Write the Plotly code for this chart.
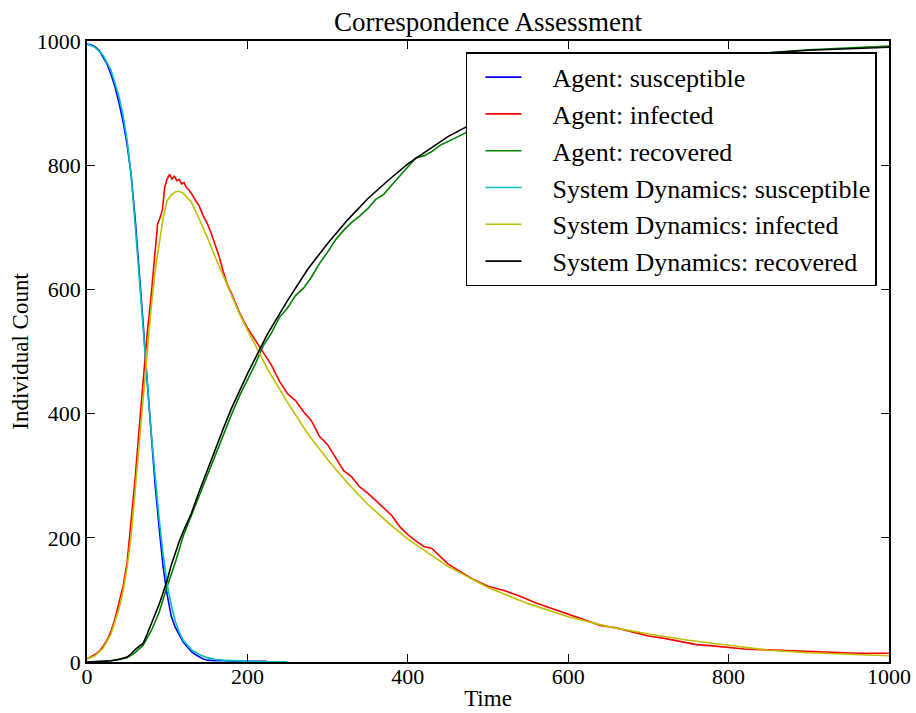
import plotly.graph_objects as go

# ---------------- data ----------------
sd_time = [0, 10, 20, 30, 40, 45, 50, 55, 60, 65, 70, 75, 80, 85, 90, 95, 100, 105, 110, 115,
           120, 130, 140, 150, 160, 170, 180, 190, 200, 225, 250]
sd_susceptible = [995, 990, 977, 953, 910, 880, 840, 785, 705, 625, 550, 455, 370, 295, 230, 172,
                  125, 92, 66, 48, 35, 20, 12, 7, 4, 3, 2, 1.5, 1, 0.5, 0.3]

sd_time_ir = [0, 10, 20, 30, 40, 45, 50, 55, 60, 65, 70, 75, 80, 85, 90, 95, 100, 105, 110, 115,
              120, 130, 140, 150, 160, 170, 180, 190, 200, 225, 250, 275, 300, 325, 350, 375, 400,
              450, 500, 550, 600, 650, 700, 750, 800, 850, 900, 950, 1000]
sd_infected = [5, 10, 22, 45, 86, 114, 152, 202, 275, 350, 420, 500, 570, 630, 677, 716, 743, 752,
               757, 758, 755, 741, 713, 684, 652, 621, 590, 561, 535, 472, 418, 368, 326, 288, 254,
               225, 198, 154, 120, 94, 73, 57, 45, 35, 27, 19, 15, 12, 10]
sd_recovered = [0, 0.3, 1, 2, 4, 6, 8, 13, 20, 25, 30, 45, 60, 75, 93, 112, 132, 156, 177, 194,
                210, 239, 275, 309, 344, 376, 408, 437, 464, 528, 582, 632, 674, 712, 746, 775,
                802, 846, 880, 906, 927, 943, 955, 965, 973, 981, 985, 988, 990]

agent_s_time = [0, 5, 10, 15, 20, 25, 30, 35, 40, 45, 50, 55, 60, 65, 70, 75, 80, 85, 90, 95, 100,
                105, 110, 115, 120, 125, 130, 135, 140, 145, 150, 155, 160, 170, 180, 190, 200, 210,
                224]
agent_susceptible = [995, 994, 991, 985, 974, 963, 946, 926, 900, 870, 833, 785, 715, 635, 545,
                     452, 362, 285, 215, 152, 108, 74, 56, 45, 32, 24, 17, 12, 8, 5, 3, 2, 2, 2,
                     1, 1, 1, 1, 1]

agent_i_time = [0, 5, 10, 15, 20, 25, 30, 35, 40, 45, 50, 55, 60, 65, 70, 75, 80, 85, 88, 91, 94,
                97, 100, 103, 106, 109, 112, 115, 118, 121, 124, 127, 130, 135, 140, 145, 150, 155,
                160, 165, 170, 175, 180, 185, 190, 195, 200, 210, 220, 230, 240, 250, 260, 270,
                280, 290, 300, 310, 320, 330, 340, 350, 360, 370, 380, 390, 400, 410, 420, 430,
                440, 450, 460, 470, 480, 490, 500, 520, 540, 560, 580, 600, 620, 640, 660, 680,
                700, 720, 740, 760, 780, 800, 820, 840, 860, 880, 900, 920, 940, 960, 980, 1000]
agent_infected = [5, 8, 12, 17, 25, 35, 50, 70, 94, 122, 160, 222, 295, 375, 455, 528, 590, 665,
                  705, 715, 728, 765, 778, 785, 778, 782, 775, 777, 770, 772, 764, 760, 755, 744,
                  734, 718, 706, 690, 672, 652, 628, 608, 594, 578, 563, 550, 538, 518, 498, 478,
                  452, 432, 421, 403, 388, 363, 350, 330, 308, 298, 282, 272, 260, 248, 236, 218,
                  205, 195, 186, 183, 170, 158, 150, 142, 134, 128, 122, 115, 106, 95, 86, 76, 68,
                  59, 55, 48, 42, 38, 33, 28, 26, 23, 21, 20, 19, 18, 16, 15, 15, 14, 14, 14]

agent_r_time = [0, 10, 20, 30, 40, 50, 60, 70, 80, 90, 100, 110, 120, 130, 140, 150, 160, 170,
                180, 190, 200, 210, 220, 230, 240, 250, 260, 270, 280, 290, 300, 310, 320, 330,
                340, 350, 360, 370, 380, 390, 400, 410, 420, 430, 440, 450, 500, 550, 600, 650,
                700, 750, 800, 850, 900, 950, 1000]
agent_recovered = [0, 0, 1, 2, 4, 7, 15, 27, 50, 80, 122, 160, 203, 236, 268, 300, 334, 365, 398,
                   428, 455, 480, 510, 530, 555, 570, 590, 602, 620, 642, 660, 680, 695, 708, 718,
                   730, 745, 753, 768, 782, 797, 812, 815, 822, 832, 838, 870, 900, 922, 940, 952,
                   963, 972, 981, 986, 989, 992]

tick_vals = [0, 200, 400, 600, 800, 1000]
tick_text = ["0", "200", "400", "600", "800", "1000"]

# ---------------- figure ----------------
FONT = "Liberation Serif"
GAP = "\u00a0" * 4
series = [
    ("Agent: susceptible", agent_s_time, agent_susceptible, "#0000ff"),
    ("Agent: infected", agent_i_time, agent_infected, "#ff0000"),
    ("Agent: recovered", agent_r_time, agent_recovered, "#008000"),
    ("System Dynamics: susceptible", sd_time, sd_susceptible, "#00bfbf"),
    ("System Dynamics: infected", sd_time_ir, sd_infected, "#bfbf00"),
    ("System Dynamics: recovered", sd_time_ir, sd_recovered, "#000000"),
]

fig = go.Figure()
for i, (name, xs, ys, col) in enumerate(series):
    fig.add_trace(go.Scatter(x=xs, y=ys, mode="lines", name=GAP + name, legendgroup=str(i),
                             line=dict(color=col, width=1.6)))

axis_common = dict(range=[0, 1000], tickvals=tick_vals, ticktext=tick_text,
                   showline=True, linecolor="black", linewidth=1.5, mirror="ticks",
                   ticks="inside", ticklen=8, tickwidth=1, tickcolor="black",
                   showgrid=False, zeroline=False, automargin=False,
                   tickfont=dict(family=FONT, size=22, color="black"))

fig.update_layout(
    width=916, height=713,
    margin=dict(l=87, r=27, t=41, b=51),
    paper_bgcolor="white", plot_bgcolor="white",
    title=dict(text="Correspondence Assessment", x=0.5, xanchor="center",
               y=1 - 22 / 713, yanchor="middle",
               xref="paper",
               font=dict(family=FONT, size=27, color="black")),
    xaxis=dict(title=dict(text="Time", font=dict(family=FONT, size=23, color="black"),
                          standoff=2), ticklabelstandoff=-6, **axis_common),
    yaxis=dict(title=dict(text="Individual Count", font=dict(family=FONT, size=23, color="black"),
                          standoff=2), **axis_common),
    legend=dict(x=0.985, y=0.982, xanchor="right", yanchor="top",
                bgcolor="white", bordercolor="black", borderwidth=1.5,
                font=dict(family=FONT, size=26, color="black"),
                traceorder="grouped", tracegroupgap=0, itemwidth=36, indentation=13),
    showlegend=True,
)

fig.write_html("out.html")
